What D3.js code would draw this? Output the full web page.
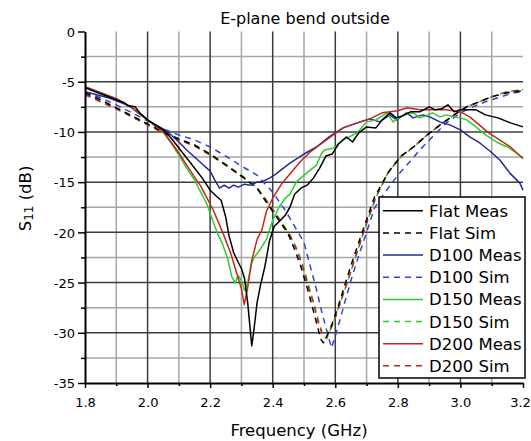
<!DOCTYPE html>
<html>
<head>
<meta charset="utf-8">
<script src="https://cdn.jsdelivr.net/npm/d3@7"></script>
<style>
  body { margin: 0; background: #fff; }
  svg { display: block; }
  text { font-family: "DejaVu Sans", Verdana, sans-serif; fill: #000; }
</style>
</head>
<body>
<svg id="chart" width="531" height="441"></svg>
<script>
// ---- Data: S11 (dB) versus frequency (GHz) ----
const chartTitle = "E-plane bend outside";
const xLabel = "Frequency (GHz)";
const xMajorTicks = [1.8, 2.0, 2.2, 2.4, 2.6, 2.8, 3.0, 3.2];
const xMinorTicks = [1.9, 2.1, 2.3, 2.5, 2.7, 2.9, 3.1];
const yMajorTicks = [0, -5, -10, -15, -20, -25, -30, -35];
const yMinorTicks = [-2.5, -7.5, -12.5, -17.5, -22.5, -27.5, -32.5];

const seriesNames = ["Flat Meas", "Flat Sim", "D100 Meas", "D100 Sim",
                     "D150 Meas", "D150 Sim", "D200 Meas", "D200 Sim"];

const flatMeas = [[1.80,-5.6],[1.825,-5.9],[1.85,-6.2],[1.875,-6.5],[1.90,-6.8],[1.925,-7.1],[1.94,-7.4],
  [1.96,-7.5],[1.975,-8.1],[2.00,-8.8],[2.025,-9.3],[2.05,-9.8],[2.075,-10.6],[2.10,-11.6],[2.125,-12.6],
  [2.15,-13.6],[2.175,-14.6],[2.20,-15.8],[2.22,-16.4],[2.235,-16.8],[2.25,-18.5],[2.26,-20.3],[2.275,-22.0],
  [2.29,-23.0],[2.30,-23.6],[2.31,-24.6],[2.32,-27.0],[2.333,-31.3],[2.34,-29.7],[2.35,-27.0],[2.36,-25.4],
  [2.375,-23.4],[2.39,-20.8],[2.405,-19.4],[2.425,-18.8],[2.44,-18.3],[2.455,-17.5],[2.47,-16.2],[2.49,-15.6],
  [2.51,-15.3],[2.53,-14.6],[2.55,-13.6],[2.57,-12.4],[2.59,-12.2],[2.61,-11.2],[2.635,-10.5],[2.655,-11.0],
  [2.675,-10.1],[2.70,-9.5],[2.73,-9.6],[2.75,-8.8],[2.775,-8.1],[2.795,-8.6],[2.815,-8.4],[2.84,-8.0],
  [2.87,-8.0],[2.90,-7.5],[2.92,-7.8],[2.94,-7.7],[2.96,-7.3],[2.98,-8.0],[3.00,-7.8],[3.05,-7.8],
  [3.08,-8.3],[3.12,-8.6],[3.16,-9.1],[3.20,-9.5]];

const flatSim = [[1.80,-6.1],[1.85,-6.8],[1.90,-7.6],[1.95,-8.4],[2.00,-9.2],[2.05,-10.0],[2.10,-10.7],
  [2.15,-11.3],[2.20,-12.2],[2.25,-13.3],[2.30,-14.4],[2.35,-15.6],[2.38,-17.0],[2.42,-18.8],[2.45,-20.2],
  [2.47,-21.7],[2.49,-23.4],[2.51,-25.5],[2.525,-27.2],[2.54,-29.0],[2.553,-30.6],[2.562,-31.0],[2.575,-30.2],
  [2.59,-29.1],[2.61,-27.3],[2.63,-25.3],[2.65,-23.3],[2.675,-21.0],[2.695,-19.2],[2.725,-16.5],[2.77,-14.0],
  [2.81,-12.4],[2.85,-11.5],[2.89,-10.4],[2.935,-9.3],[2.98,-8.3],[3.02,-7.5],[3.06,-7.0],[3.10,-6.5],
  [3.15,-6.1],[3.20,-5.9]];

const d100Meas = [[1.80,-6.0],[1.825,-6.2],[1.85,-6.4],[1.875,-6.6],[1.90,-6.9],[1.925,-7.2],[1.95,-7.6],
  [1.975,-8.2],[2.00,-8.8],[2.025,-9.3],[2.05,-9.7],[2.075,-10.3],[2.10,-11.0],[2.125,-11.8],[2.15,-12.5],
  [2.175,-13.2],[2.20,-13.9],[2.215,-14.8],[2.23,-15.6],[2.245,-15.3],[2.26,-15.6],[2.275,-15.3],[2.29,-15.5],
  [2.31,-15.2],[2.33,-15.3],[2.35,-15.0],[2.37,-14.9],[2.39,-14.6],[2.41,-14.2],[2.43,-13.7],[2.455,-13.1],
  [2.48,-12.6],[2.50,-12.2],[2.54,-11.5],[2.58,-10.5],[2.625,-9.6],[2.67,-9.1],[2.71,-8.7],[2.742,-9.0],
  [2.774,-8.3],[2.796,-8.8],[2.828,-8.1],[2.849,-8.6],[2.88,-8.3],[2.902,-8.5],[2.934,-9.0],[2.966,-9.3],
  [3.00,-9.8],[3.03,-10.5],[3.062,-11.1],[3.094,-11.9],[3.126,-12.8],[3.158,-14.1],[3.19,-15.1],[3.20,-15.8]];

const d100Sim = [[1.80,-6.0],[1.85,-6.6],[1.90,-7.3],[1.95,-8.1],[2.00,-8.9],[2.05,-9.7],[2.10,-10.3],
  [2.15,-10.8],[2.20,-11.5],[2.25,-12.4],[2.30,-13.4],[2.35,-14.3],[2.40,-16.0],[2.44,-17.8],[2.47,-19.4],
  [2.50,-21.0],[2.515,-22.8],[2.54,-25.7],[2.555,-27.7],[2.572,-29.7],[2.588,-31.5],[2.60,-30.3],[2.615,-28.7],
  [2.63,-27.0],[2.65,-24.8],[2.675,-22.3],[2.70,-20.0],[2.725,-17.6],[2.75,-16.4],[2.80,-14.3],[2.84,-12.9],
  [2.87,-11.8],[2.91,-10.5],[2.955,-9.1],[3.00,-8.1],[3.04,-7.5],[3.08,-7.0],[3.13,-6.5],[3.17,-6.1],
  [3.20,-6.0]];

const d150Meas = [[1.80,-5.5],[1.825,-5.8],[1.85,-6.1],[1.875,-6.4],[1.90,-6.7],[1.925,-7.1],[1.95,-7.6],
  [1.975,-8.2],[2.00,-8.8],[2.025,-9.4],[2.05,-10.0],[2.075,-11.1],[2.10,-12.3],[2.125,-13.6],[2.15,-14.8],
  [2.17,-16.0],[2.19,-17.2],[2.21,-19.0],[2.225,-20.2],[2.24,-21.2],[2.255,-22.5],[2.27,-24.5],[2.28,-25.0],
  [2.29,-24.3],[2.30,-24.8],[2.31,-25.8],[2.32,-25.0],[2.333,-23.0],[2.345,-22.3],[2.36,-21.7],[2.38,-20.7],
  [2.40,-18.8],[2.42,-17.5],[2.44,-16.6],[2.455,-16.2],[2.475,-15.0],[2.50,-14.3],[2.54,-13.3],[2.555,-12.2],
  [2.565,-11.8],[2.595,-11.6],[2.625,-10.8],[2.67,-10.1],[2.70,-9.0],[2.73,-8.8],[2.765,-8.1],[2.785,-9.0],
  [2.805,-8.5],[2.83,-8.2],[2.85,-8.1],[2.87,-8.6],[2.89,-8.4],[2.91,-8.1],[2.935,-8.5],[2.955,-8.3],
  [2.98,-8.5],[3.00,-8.6],[3.02,-8.8],[3.05,-9.5],[3.08,-10.3],[3.115,-11.0],[3.15,-11.5],[3.18,-12.1],
  [3.20,-12.7]];

const d150Sim = [[1.80,-6.2],[1.85,-6.9],[1.90,-7.6],[1.95,-8.4],[2.00,-9.2],[2.05,-10.0],[2.10,-10.7],
  [2.15,-11.3],[2.20,-12.2],[2.25,-13.2],[2.30,-14.3],[2.35,-15.5],[2.385,-17.0],[2.425,-18.8],[2.455,-20.2],
  [2.478,-21.7],[2.498,-23.4],[2.516,-25.4],[2.532,-27.1],[2.548,-29.0],[2.563,-30.4],[2.573,-30.6],[2.583,-29.8],
  [2.598,-28.6],[2.616,-27.0],[2.636,-25.2],[2.657,-23.2],[2.68,-21.0],[2.70,-19.1],[2.73,-16.5],[2.77,-14.0],
  [2.81,-12.5],[2.85,-11.5],[2.89,-10.4],[2.935,-9.3],[2.98,-8.3],[3.02,-7.5],[3.06,-7.0],[3.10,-6.5],
  [3.15,-6.0],[3.20,-5.8]];

const d200Meas = [[1.80,-5.5],[1.825,-5.8],[1.85,-6.1],[1.875,-6.4],[1.90,-6.7],[1.925,-7.1],[1.95,-7.6],
  [1.975,-8.2],[2.00,-8.8],[2.025,-9.4],[2.05,-10.0],[2.075,-11.0],[2.10,-12.1],[2.125,-13.3],[2.15,-14.5],
  [2.17,-15.4],[2.19,-16.6],[2.21,-17.8],[2.24,-20.0],[2.265,-22.0],[2.29,-24.6],[2.30,-25.6],[2.309,-27.2],
  [2.32,-25.5],[2.333,-22.8],[2.35,-20.7],[2.365,-19.8],[2.38,-17.9],[2.40,-16.6],[2.43,-15.1],[2.455,-14.2],
  [2.49,-12.9],[2.52,-12.0],[2.55,-11.3],[2.585,-10.5],[2.625,-9.6],[2.67,-9.1],[2.71,-8.7],[2.75,-8.1],
  [2.80,-7.9],[2.83,-7.6],[2.87,-7.8],[2.91,-7.8],[2.955,-7.8],[3.00,-8.0],[3.03,-8.5],[3.06,-9.3],
  [3.09,-10.1],[3.125,-10.8],[3.16,-11.5],[3.18,-12.1],[3.20,-12.6]];

const d200Sim = [[1.80,-6.3],[1.85,-7.0],[1.90,-7.7],[1.95,-8.5],[2.00,-9.3],[2.05,-10.1],[2.10,-10.8],
  [2.15,-11.4],[2.20,-12.3],[2.25,-13.3],[2.30,-14.4],[2.35,-15.6],[2.383,-17.0],[2.423,-18.8],[2.453,-20.2],
  [2.476,-21.7],[2.496,-23.4],[2.514,-25.4],[2.53,-27.0],[2.546,-29.0],[2.561,-30.4],[2.572,-30.5],[2.582,-29.8],
  [2.597,-28.8],[2.615,-27.1],[2.636,-25.2],[2.657,-23.2],[2.68,-21.0],[2.70,-19.1],[2.73,-16.5],[2.77,-14.0],
  [2.81,-12.4],[2.85,-11.5],[2.89,-10.4],[2.935,-9.3],[2.98,-8.3],[3.02,-7.5],[3.06,-7.0],[3.10,-6.5],
  [3.15,-6.0],[3.20,-5.8]];

// ---- Series styling ----
const series = [
  { name: seriesNames[3], values: d100Sim,  color: "#3344cc", dash: "6,5" },
  { name: seriesNames[5], values: d150Sim,  color: "#2fcc2f", dash: "6,5" },
  { name: seriesNames[7], values: d200Sim,  color: "#b82a22", dash: "6,5" },
  { name: seriesNames[1], values: flatSim,  color: "#000000", dash: "6,5" },
  { name: seriesNames[2], values: d100Meas, color: "#1f2a9c", dash: null },
  { name: seriesNames[4], values: d150Meas, color: "#2fcc2f", dash: null },
  { name: seriesNames[6], values: d200Meas, color: "#c0281e", dash: null },
  { name: seriesNames[0], values: flatMeas, color: "#000000", dash: null }
];
const legendOrder = seriesNames.map(n => series.find(s => s.name === n));

// ---- Layout ----
const svg = d3.select("#chart");
const plotLeft = 85, plotRight = 523, plotTop = 31.5, plotBottom = 383;

const x = d3.scaleLinear().domain([1.8, 3.2]).range([plotLeft, plotRight]);
const y = d3.scaleLinear().domain([-35, 0]).range([plotBottom, plotTop]);

// Grid
const grid = svg.append("g");
grid.selectAll("line.vminor").data(xMinorTicks).join("line")
  .attr("x1", d => x(d)).attr("x2", d => x(d)).attr("y1", plotTop).attr("y2", plotBottom)
  .attr("stroke", "#a6a6a6").attr("stroke-width", 1.5);
grid.selectAll("line.hminor").data(yMinorTicks).join("line")
  .attr("x1", plotLeft).attr("x2", plotRight).attr("y1", d => y(d)).attr("y2", d => y(d))
  .attr("stroke", "#a6a6a6").attr("stroke-width", 1.5);
grid.selectAll("line.vmajor").data(xMajorTicks.filter(d => d > 1.8 && d < 3.2)).join("line")
  .attr("x1", d => x(d)).attr("x2", d => x(d)).attr("y1", plotTop).attr("y2", plotBottom)
  .attr("stroke", "#3c3c3c").attr("stroke-width", 1.5);
grid.selectAll("line.hmajor").data(yMajorTicks.filter(d => d < 0 && d > -35)).join("line")
  .attr("x1", plotLeft).attr("x2", plotRight).attr("y1", d => y(d)).attr("y2", d => y(d))
  .attr("stroke", "#3c3c3c").attr("stroke-width", 1.5);

// Curves
svg.append("clipPath").attr("id", "plotClip").append("rect")
  .attr("x", plotLeft).attr("y", plotTop - 5)
  .attr("width", plotRight - plotLeft + 2).attr("height", plotBottom - plotTop + 5);

const line = d3.line().x(d => x(d[0])).y(d => y(d[1]));
svg.append("g").attr("clip-path", "url(#plotClip)")
  .selectAll("path").data(series).join("path")
  .attr("d", d => line(d.values))
  .attr("fill", "none")
  .attr("stroke", d => d.color)
  .attr("stroke-width", 1.5)
  .attr("stroke-dasharray", d => d.dash)
  .attr("stroke-linejoin", "round");

// Axes
const fmtX = d3.format(".1f");
const xAxis = svg.append("g").attr("transform", `translate(0,${plotBottom})`)
  .call(d3.axisBottom(x).tickValues(xMajorTicks).tickSize(5).tickSizeOuter(0).tickFormat(fmtX));
svg.append("g").attr("transform", `translate(0,${plotBottom})`)
  .call(d3.axisBottom(x).tickValues(xMinorTicks).tickSize(3).tickSizeOuter(0).tickFormat(""))
  .call(g => g.select(".domain").remove());
const yAxis = svg.append("g").attr("transform", `translate(${plotLeft},0)`)
  .call(d3.axisLeft(y).tickValues(yMajorTicks).tickSize(7).tickSizeOuter(0).tickPadding(3).tickFormat(d => String(d)));
svg.append("g").attr("transform", `translate(${plotLeft},0)`)
  .call(d3.axisLeft(y).tickValues(yMinorTicks).tickSize(4).tickSizeOuter(0).tickFormat(""))
  .call(g => g.select(".domain").remove());

svg.selectAll(".domain").attr("stroke", "#000").attr("stroke-width", 2);
svg.selectAll(".tick line").attr("stroke", "#000").attr("stroke-width", 1.5);
svg.selectAll("g").filter(function () { return this.hasAttribute("font-family"); })
  .attr("font-family", null).attr("font-size", null);
xAxis.selectAll("text").style("font-size", "13px").attr("dy", null).attr("y", 24)
  .attr("x", d => d === 3.2 ? -3 : 0);
yAxis.selectAll("text").style("font-size", "13px").attr("dy", "0.36em");
svg.selectAll(".tick text").attr("fill", "#000");

// Title and axis labels
svg.append("text").attr("x", 305).attr("y", 24).attr("text-anchor", "middle")
  .style("font-size", "16px").text(chartTitle);
svg.append("text").attr("x", 299).attr("y", 436).attr("text-anchor", "middle")
  .style("font-size", "16.5px").text(xLabel);
const yl = svg.append("text").attr("transform", "translate(31,198.5) rotate(-90)")
  .attr("text-anchor", "middle").style("font-size", "16.5px");
yl.append("tspan").text("S");
yl.append("tspan").attr("dy", 2).style("font-size", "12px").text("11");
yl.append("tspan").attr("dy", -2).text(" (dB)");

// Legend
const lg = svg.append("g");
lg.append("rect").attr("x", 379).attr("y", 197).attr("width", 146).attr("height", 181)
  .attr("fill", "#fff").attr("stroke", "#000").attr("stroke-width", 1.5);
const rowY = i => 210.8 + i * 22.15;
const rows = lg.selectAll("g.row").data(legendOrder).join("g")
  .attr("transform", (d, i) => `translate(0,${rowY(i)})`);
rows.append("line").attr("x1", 383).attr("x2", 423).attr("y1", 0).attr("y2", 0)
  .attr("stroke", d => d.color).attr("stroke-width", 1.5).attr("stroke-dasharray", d => d.dash);
rows.append("text").attr("x", 429).attr("y", 6).style("font-size", "16.5px").text(d => d.name);
</script>
</body>
</html>
